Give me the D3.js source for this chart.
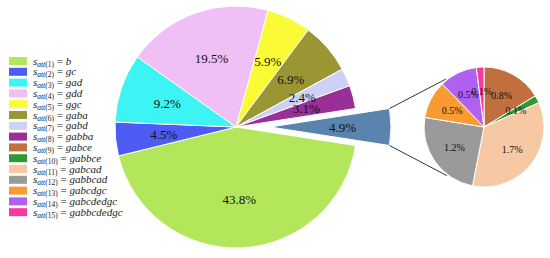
<!DOCTYPE html>
<html>
<head>
<meta charset="utf-8">
<script src="https://cdn.jsdelivr.net/npm/d3@7"></script>
<style>
  body { margin: 0; background: #fff; }
  svg { display: block; }
</style>
</head>
<body>
<div id="chart_area"></div>
<script>
// Main pie data (last entry is the exploded "rest" slice)
var mainNames = ["b", "gc", "gad", "gdd", "ggc", "gaba", "gabd", "gabba", "rest"];
var mainValues = [43.8, 4.5, 9.2, 19.5, 5.9, 6.9, 2.4, 3.1, 4.9];
var mainColors = ["#b4e65c", "#4d5cf2", "#3ef3f3", "#efbff6", "#fbfa36", "#9b9634", "#cdd1f6", "#992f97", "#5a84ad"];

// Breakdown of the rest slice
var subNames = ["gabce", "gabbce", "gabcad", "gabbcad", "gabcdgc", "gabcdedgc", "gabbcdedgc"];
var subValues = [0.8, 0.1, 1.7, 1.2, 0.5, 0.5, 0.1];
var subColors = ["#bf703e", "#2f9a33", "#f6c8a3", "#9a9a9a", "#fa9a32", "#b061f2", "#f53a9d"];

var width = 550, height = 258;

var svg = d3.select("#chart_area").append("svg")
    .attr("width", width)
    .attr("height", height);

// Main pie
var cx = 236, cy = 127, r = 121, explode = 34;
var total = d3.sum(mainValues);
var half = Math.PI * mainValues[mainValues.length - 1] / total;
var start = Math.PI / 2 + half;

var pie = d3.pie().sort(null).value(function(d) { return d; })
    .startAngle(start).endAngle(start + 2 * Math.PI);
var arc = d3.arc().innerRadius(0).outerRadius(r);
var labelArc = d3.arc().innerRadius(r * 0.6).outerRadius(r * 0.6);

var mainArcs = pie(mainValues);
var lastIdx = mainValues.length - 1;

function offset(d, i) {
  if (i !== lastIdx) return [0, 0];
  var a = (d.startAngle + d.endAngle) / 2;
  return [explode * Math.sin(a), -explode * Math.cos(a)];
}

var main = svg.append("g")
    .attr("transform", "translate(" + cx + "," + cy + ")");

main.selectAll(".slice")
    .data(mainArcs)
    .enter().append("path")
    .attr("class", "slice")
    .attr("transform", function(d, i) { var o = offset(d, i); return "translate(" + o[0] + "," + o[1] + ")"; })
    .attr("d", arc)
    .attr("fill", function(d, i) { return mainColors[i]; })
    .attr("stroke", "#fff")
    .attr("stroke-width", 1);

main.selectAll(".lbl")
    .data(mainArcs)
    .enter().append("text")
    .attr("class", "lbl")
    .attr("transform", function(d, i) {
      var c = labelArc.centroid(d), o = offset(d, i);
      return "translate(" + (c[0] + o[0]) + "," + (c[1] + o[1]) + ")";
    })
    .attr("text-anchor", "middle")
    .attr("dominant-baseline", "central")
    .style("font-family", "'Liberation Serif', 'Times New Roman', serif")
    .style("font-size", "13px")
    .attr("fill", "#111")
    .text(function(d) { return d.data.toFixed(1) + "%"; });

// Small pie for the rest
var sx = 484, sy = 127, sr = 60;
var subPie = d3.pie().sort(null).value(function(d) { return d; });
var subArc = d3.arc().innerRadius(0).outerRadius(sr);
var subLabelArc = d3.arc().innerRadius(sr * 0.6).outerRadius(sr * 0.6);
var subArcs = subPie(subValues);

// Connector lines from the exploded slice corners to the small pie
var restArc = mainArcs[lastIdx];
var ro = offset(restArc, lastIdx);
var corners = [restArc.startAngle, restArc.endAngle].map(function(a) {
  return [cx + ro[0] + r * Math.sin(a), cy + ro[1] - r * Math.cos(a)];
});
var targetAngles = [-38.5, 217.5].map(function(a) { return a * Math.PI / 180; });
var targets = targetAngles.map(function(a) {
  return [sx + sr * 1.02 * Math.sin(a), sy - sr * 1.02 * Math.cos(a)];
});

svg.selectAll(".conn")
    .data([0, 1])
    .enter().append("line")
    .attr("class", "conn")
    .attr("x1", function(i) { return corners[i][0]; })
    .attr("y1", function(i) { return corners[i][1]; })
    .attr("x2", function(i) { return targets[i][0]; })
    .attr("y2", function(i) { return targets[i][1]; })
    .attr("stroke", "#333")
    .attr("stroke-width", 1);

var sub = svg.append("g")
    .attr("transform", "translate(" + sx + "," + sy + ")");

sub.selectAll(".sslice")
    .data(subArcs)
    .enter().append("path")
    .attr("class", "sslice")
    .attr("d", subArc)
    .attr("fill", function(d, i) { return subColors[i]; })
    .attr("stroke", "#fff")
    .attr("stroke-width", 1);

sub.selectAll(".slbl")
    .data(subArcs)
    .enter().append("text")
    .attr("class", "slbl")
    .attr("transform", function(d) { return "translate(" + subLabelArc.centroid(d) + ")"; })
    .attr("text-anchor", "middle")
    .attr("dominant-baseline", "central")
    .style("font-family", "'Liberation Serif', 'Times New Roman', serif")
    .style("font-size", "10px")
    .attr("fill", "#111")
    .text(function(d) { return d.data.toFixed(1) + "%"; });

// Legend
var legendNames = mainNames.slice(0, lastIdx).concat(subNames);
var legendColors = mainColors.slice(0, lastIdx).concat(subColors);

var legend = svg.append("g")
    .attr("transform", "translate(9,61)");

var rows = legend.selectAll(".row")
    .data(legendNames)
    .enter().append("g")
    .attr("class", "row")
    .attr("transform", function(d, i) { return "translate(0," + (i * 10.8) + ")"; });

rows.append("rect")
    .attr("x", 0)
    .attr("y", -4)
    .attr("width", 18)
    .attr("height", 8)
    .attr("fill", function(d, i) { return legendColors[i]; });

var txt = rows.append("text")
    .attr("x", 24)
    .attr("y", 3.5)
    .style("font-family", "'Liberation Serif', 'Times New Roman', serif")
    .style("font-size", "11px")
    .attr("fill", "#222");

txt.append("tspan").style("font-style", "italic").text("s");
txt.append("tspan").attr("dy", 2).style("font-size", "7.5px").style("font-style", "italic").text("att");
txt.append("tspan").style("font-size", "7.5px").text(function(d, i) { return "(" + (i + 1) + ")"; });
txt.append("tspan").attr("dy", -2).text(" = ");
txt.append("tspan").style("font-style", "italic").text(function(d) { return d; });
</script>
</body>
</html>
